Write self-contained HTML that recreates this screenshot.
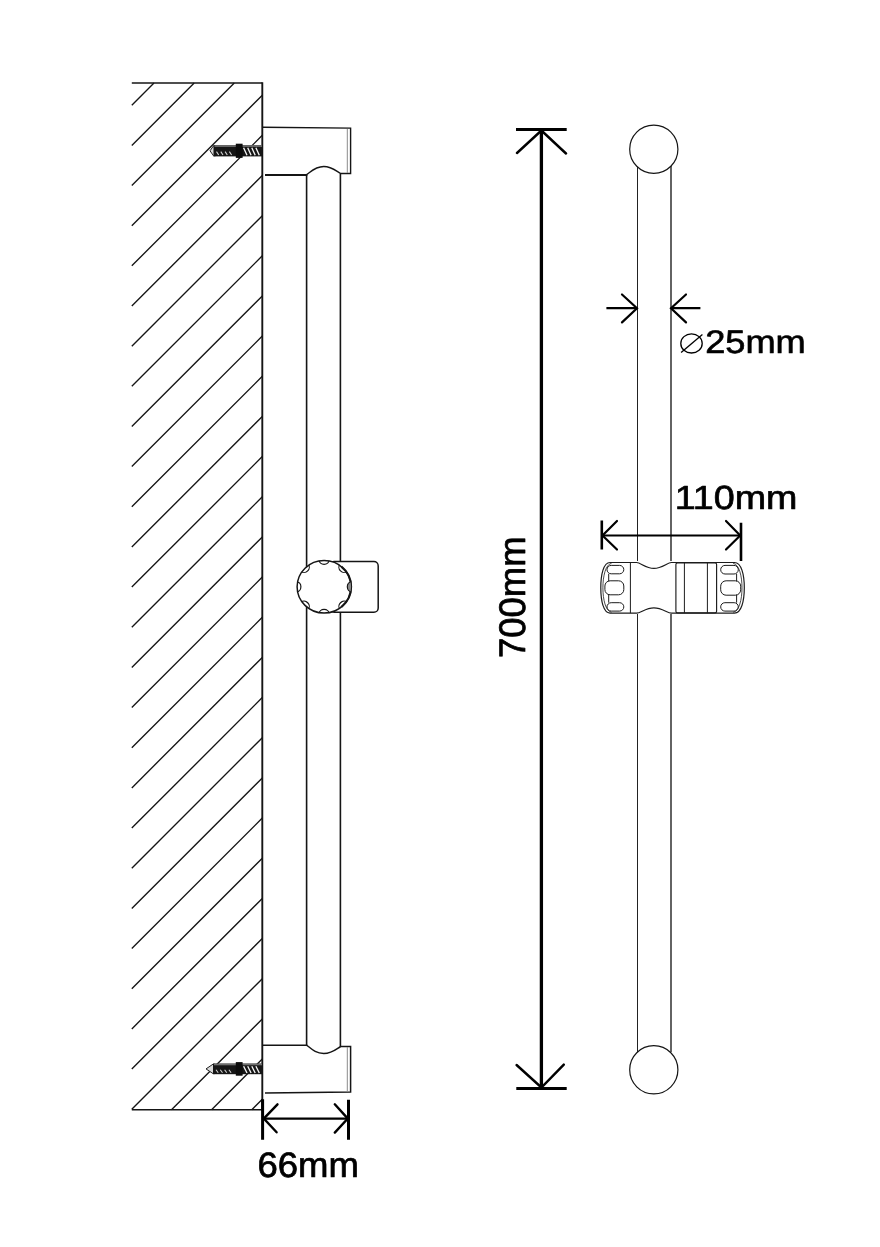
<!DOCTYPE html>
<html><head><meta charset="utf-8"><title>Shower rail dimensions</title>
<style>
html,body{margin:0;padding:0;background:#fff;}
body{width:880px;height:1247px;overflow:hidden;font-family:"Liberation Sans",sans-serif;}
svg{display:block;will-change:transform;filter:grayscale(1);}
svg text{font-family:"Liberation Sans",sans-serif;fill:#000;stroke:#000;stroke-width:2.0px;stroke-linejoin:round;text-rendering:geometricPrecision;}
</style></head><body>
<svg width="880" height="1247" viewBox="0 0 880 1247">
<defs><clipPath id="knob"><ellipse cx="324.1" cy="586.8" rx="27" ry="26.3"/></clipPath></defs>
<rect width="880" height="1247" fill="#fff"/>
<path d="M131.8,105.2L154.0,83.0M131.8,145.4L194.2,83.0M131.8,185.5L234.3,83.0M131.8,225.7L262.3,95.2M131.8,265.8L262.3,135.3M131.8,306.0L262.3,175.5M131.8,346.2L262.3,215.7M131.8,386.3L262.3,255.8M131.8,426.5L262.3,296.0M131.8,466.6L262.3,336.1M131.8,506.8L262.3,376.3M131.8,547.0L262.3,416.5M131.8,587.1L262.3,456.6M131.8,627.3L262.3,496.8M131.8,667.4L262.3,536.9M131.8,707.6L262.3,577.1M131.8,747.8L262.3,617.3M131.8,787.9L262.3,657.4M131.8,828.1L262.3,697.6M131.8,868.2L262.3,737.7M131.8,908.4L262.3,777.9M131.8,948.6L262.3,818.1M131.8,988.7L262.3,858.2M131.8,1028.9L262.3,898.4M131.8,1069.0L262.3,938.5M131.8,1109.2L262.3,978.7M171.5,1109.7L262.3,1018.9M211.6,1109.7L262.3,1059.0M251.8,1109.7L262.3,1099.2" stroke="#151515" stroke-width="1.35" fill="none"/>
<path d="M131.8,83.0L262.3,83.0" stroke="#151515" stroke-width="1.6" fill="none"/>
<path d="M131.8,1109.7L262.3,1109.7" stroke="#151515" stroke-width="1.6" fill="none"/>
<path d="M262.3,82.3L262.3,1110.2" stroke="#151515" stroke-width="1.9" fill="none"/>
<path d="M210,150.8L213.5,145.79999999999998L215.5,145.79999999999998L215.5,155.8L213.5,155.8Z" fill="#d8d8d8" stroke="#222" stroke-width="1"/><rect x="213.5" y="145.2" width="48.5" height="11.200000000000017" fill="#161616"/><rect x="214.5" y="145.2" width="47.5" height="1.7" fill="#6e6e6e"/><rect x="235.8" y="143.7" width="6.8" height="14.200000000000017" fill="#0c0c0c"/><path d="M243.6,147.79999999999998L247.0,155.20000000000002M247.7,147.79999999999998L251.1,155.20000000000002M251.8,147.79999999999998L255.2,155.20000000000002M255.9,147.79999999999998L259.3,155.20000000000002" stroke="#f4f4f4" stroke-width="1.35" fill="none"/><path d="M216.5,151.60000000000002L218.7,155.0M220.8,151.60000000000002L223.0,155.0M225.1,151.60000000000002L227.3,155.0M229.4,151.60000000000002L231.6,155.0" stroke="#cfcfcf" stroke-width="1.1" fill="none"/>
<path d="M206,1068.9L213,1064.1999999999998L215,1064.1999999999998L215,1073.6000000000001L213,1073.6000000000001Z" fill="#d8d8d8" stroke="#222" stroke-width="1"/><rect x="213" y="1063.6" width="49" height="10.600000000000136" fill="#161616"/><rect x="214" y="1063.6" width="48" height="1.7" fill="#6e6e6e"/><rect x="235.8" y="1062.1" width="6.8" height="13.600000000000136" fill="#0c0c0c"/><path d="M243.6,1066.1999999999998L247.0,1073.0M247.7,1066.1999999999998L251.1,1073.0M251.8,1066.1999999999998L255.2,1073.0M255.9,1066.1999999999998L259.3,1073.0" stroke="#f4f4f4" stroke-width="1.35" fill="none"/><path d="M216.0,1069.7L218.2,1072.8M220.3,1069.7L222.5,1072.8M224.6,1069.7L226.8,1072.8M228.9,1069.7L231.1,1072.8" stroke="#cfcfcf" stroke-width="1.1" fill="none"/>
<path d="M263,127.3L350.6,128.1L350.6,173.5L340.6,173.5C335.75,170.8 331.75,166.5 323.75,166.5C315.75,166.5 311.75,170.8 306.9,174.4" stroke="#151515" stroke-width="1.4" fill="none" stroke-linejoin="miter"/>
<path d="M347.3,129L347.3,173" stroke="#8a8a8a" stroke-width="1" fill="none"/>
<path d="M265,175L307.3,175" stroke="#151515" stroke-width="2.0" fill="none"/>
<path d="M306.6,174.4L306.6,1045.4M340.4,173.5L340.4,1046.5" stroke="#151515" stroke-width="1.6" fill="none"/>
<path d="M263,1045.3L306.9,1045.3C311.75,1049.2 315.75,1053.5 323.75,1053.5C331.75,1053.5 335.75,1049.6 340.6,1046.5L350.6,1046.5L350.6,1091.9L265,1093.1" stroke="#151515" stroke-width="1.5" fill="none"/>
<path d="M347.3,1047L347.3,1091.5" stroke="#8a8a8a" stroke-width="1" fill="none"/>
<rect x="330" y="561.6" width="48.2" height="50.7" rx="4.3" fill="#fff" stroke="#151515" stroke-width="1.5"/>
<ellipse cx="324.1" cy="586.8" rx="27" ry="26.3" fill="#fff" stroke="#151515" stroke-width="1.5"/><path d="M341.4,566.6A27,26.3 0 0 1 341.4,607" fill="none" stroke="#151515" stroke-width="2.1"/>
<g clip-path="url(#knob)"><ellipse cx="351.70" cy="586.80" rx="5.0" ry="4.4" transform="rotate(90 351.70 586.80)" fill="#8a8a8a" stroke="#151515" stroke-width="1.2"/><ellipse cx="343.62" cy="605.82" rx="5.0" ry="4.4" transform="rotate(135 343.62 605.82)" fill="none" stroke="#151515" stroke-width="1.2"/><ellipse cx="324.10" cy="613.70" rx="5.0" ry="4.4" transform="rotate(180 324.10 613.70)" fill="none" stroke="#151515" stroke-width="1.2"/><ellipse cx="304.58" cy="605.82" rx="5.0" ry="4.4" transform="rotate(225 304.58 605.82)" fill="none" stroke="#151515" stroke-width="1.2"/><ellipse cx="296.50" cy="586.80" rx="5.0" ry="4.4" transform="rotate(270 296.50 586.80)" fill="none" stroke="#151515" stroke-width="1.2"/><ellipse cx="304.58" cy="567.78" rx="5.0" ry="4.4" transform="rotate(315 304.58 567.78)" fill="none" stroke="#151515" stroke-width="1.2"/><ellipse cx="324.10" cy="559.90" rx="5.0" ry="4.4" transform="rotate(360 324.10 559.90)" fill="none" stroke="#151515" stroke-width="1.2"/><ellipse cx="343.62" cy="567.78" rx="5.0" ry="4.4" transform="rotate(405 343.62 567.78)" fill="none" stroke="#151515" stroke-width="1.2"/></g>
<path d="M262.6,1099.3L262.6,1139.8M348.5,1099.8L348.5,1139.8" stroke="#000" stroke-width="3" fill="none"/>
<path d="M263,1118.6L348.5,1118.6" stroke="#000" stroke-width="2.4" fill="none"/>
<path d="M277.5,1104.3L263.8,1118.6L276.6,1132.3M334.8,1104.3L347.8,1118.6L334.8,1132.6" stroke="#000" stroke-width="2.4" fill="none" stroke-linecap="round"/>
<path d="M637.5,165L637.5,561M637.5,614L637.5,1052" stroke="#222" stroke-width="1.0" fill="none"/><path d="M671,165L671,561M671,614L671,1052" stroke="#1a1a1a" stroke-width="1.35" fill="none"/>
<circle cx="653.8" cy="149.2" r="24.1" fill="#fff" stroke="#151515" stroke-width="1.2"/>
<circle cx="653.8" cy="1069.8" r="24.1" fill="#fff" stroke="#151515" stroke-width="1.2"/>
<path d="M516,129.5L566.7,129.5M516.3,1088.5L566.7,1088.5" stroke="#000" stroke-width="3" fill="none"/>
<path d="M541.4,129.5L541.4,1088.5" stroke="#000" stroke-width="3.3" fill="none"/>
<path d="M517,153L541.4,130.5L566,153.5M516.6,1065L541.4,1087.5L563.8,1064.6" stroke="#000" stroke-width="2.4" fill="none" stroke-linecap="round"/>
<path d="M606.4,308.2L637,308.2M671,308.2L700.4,308.2" stroke="#000" stroke-width="2.2" fill="none"/>
<path d="M622,294.5L637,308.2L622,322.4M686,294.5L671,308.2L686,322.4" stroke="#000" stroke-width="2.2" fill="none" stroke-linecap="round"/>
<path d="M610,562.5L636.6,562.5C640.5,562.5 645.8,568.4 653.9,568.4C662,568.4 667.5,562.5 671.4,562.5L734.5,562.5C741.3,562.5 744.3,574.5 744.3,587.8C744.3,601.1 741.3,613.1 734.5,613.1L671.4,613.1C667.5,613.1 662,607.9 653.9,607.9C645.8,607.9 640.5,613.1 636.6,613.1L610,613.1C603.5,613.1 600.8,601.1 600.8,587.8C600.8,574.5 603.5,562.5 610,562.5Z" fill="#fff" stroke="#1c1c1c" stroke-width="1.2"/><path d="M630.4,562.5L630.4,613.1" stroke="#1c1c1c" stroke-width="1" fill="none"/><rect x="675.9" y="562.8" width="40.7" height="50.00000000000002" rx="1.6" fill="none" stroke="#1c1c1c" stroke-width="1.15"/><path d="M684.4,562.5L684.4,613.1M707.4,562.5L707.4,613.1" stroke="#1c1c1c" stroke-width="1" fill="none"/><path d="M611.5,563.3C605.6,564.5 602.9,576 602.9,587.8C602.9,599.6 605.6,611.1 611.5,612.3000000000001M733.2,563.3C739.2,564.5 742,576 742,587.8C742,599.6 739.2,611.1 733.2,612.3000000000001" stroke="#1c1c1c" stroke-width="0.8" fill="none"/><rect x="607" y="565.4" width="16.8" height="8.4" rx="4.2" fill="none" stroke="#1c1c1c" stroke-width="1"/><rect x="604.9" y="580.8" width="18.9" height="14" rx="5.2" fill="none" stroke="#1c1c1c" stroke-width="1"/><rect x="607" y="602.7" width="16.8" height="8.4" rx="4.2" fill="none" stroke="#1c1c1c" stroke-width="1"/><path d="M608.7,573.8L608.7,581.4M608.7,594.2L608.7,602.7" stroke="#1c1c1c" stroke-width="1" fill="none"/><rect x="720.7" y="565.4" width="17.6" height="8.6" rx="4.3" fill="none" stroke="#1c1c1c" stroke-width="1"/><rect x="720.7" y="580.8" width="20" height="14.4" rx="5.4" fill="none" stroke="#1c1c1c" stroke-width="1"/><rect x="720.7" y="602.7" width="17.6" height="8.4" rx="4.2" fill="none" stroke="#1c1c1c" stroke-width="1"/><path d="M736.6,574L736.6,581.4M736.6,594.6L736.6,602.7" stroke="#1c1c1c" stroke-width="1" fill="none"/>
<path d="M601.8,520.5L601.8,549.5M741,522.7L741,561" stroke="#000" stroke-width="2.6" fill="none"/>
<path d="M602,535.5L741,535.5" stroke="#000" stroke-width="2.2" fill="none"/>
<path d="M617,521L602.5,535.5L617,549.5M726,521L740.2,535.5L726,549.5" stroke="#000" stroke-width="2.2" fill="none" stroke-linecap="round"/>
<text transform="translate(257.44,1177.25) scale(0.3653,0.3524)" font-size="100">66mm</text>
<text transform="translate(705.15,352.87) scale(0.3620,0.3259)" font-size="100">25mm</text>
<text transform="translate(674.64,508.77) scale(0.3765,0.3343)" font-size="100">110mm</text>
<text transform="translate(525.33,658.06) rotate(-90) scale(0.3646,0.3706)" font-size="100">700mm</text>
<ellipse cx="691.5" cy="343.4" rx="10.7" ry="9.6" fill="none" stroke="#000" stroke-width="1.3"/><path d="M681.1,352.4L702.4,334.5" stroke="#000" stroke-width="1.3"/>
</svg>
</body></html>
